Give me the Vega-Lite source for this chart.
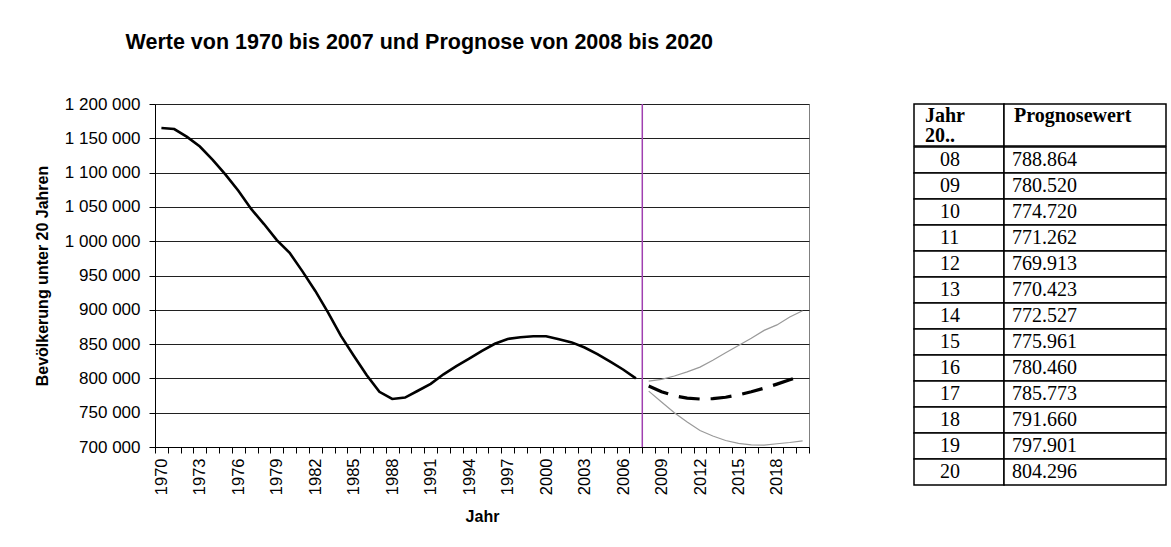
{
  "$schema": "https://vega.github.io/schema/vega-lite/v6.json",
  "background": "white",
  "padding": {"left": 33, "top": 32, "right": 2, "bottom": 5},
  "title": {
    "text": "Werte von 1970 bis 2007 und Prognose von 2008 bis 2020",
    "anchor": "middle",
    "dx": -181,
    "offset": 41,
    "font": "Liberation Sans",
    "fontSize": 21.5,
    "fontWeight": "bold",
    "color": "#000000"
  },
  "datasets": {
    "hist": [
      {"Jahr": 1970, "Wert": 1165000}, {"Jahr": 1971, "Wert": 1163500}, {"Jahr": 1972, "Wert": 1152000},
      {"Jahr": 1973, "Wert": 1138000}, {"Jahr": 1974, "Wert": 1118500}, {"Jahr": 1975, "Wert": 1097000},
      {"Jahr": 1976, "Wert": 1073500}, {"Jahr": 1977, "Wert": 1047000}, {"Jahr": 1978, "Wert": 1025000},
      {"Jahr": 1979, "Wert": 1001500}, {"Jahr": 1980, "Wert": 983000}, {"Jahr": 1981, "Wert": 956000},
      {"Jahr": 1982, "Wert": 927500}, {"Jahr": 1983, "Wert": 896000}, {"Jahr": 1984, "Wert": 862000},
      {"Jahr": 1985, "Wert": 833000}, {"Jahr": 1986, "Wert": 805000}, {"Jahr": 1987, "Wert": 780500},
      {"Jahr": 1988, "Wert": 770000}, {"Jahr": 1989, "Wert": 772000}, {"Jahr": 1990, "Wert": 782000},
      {"Jahr": 1991, "Wert": 792000}, {"Jahr": 1992, "Wert": 806000}, {"Jahr": 1993, "Wert": 818000},
      {"Jahr": 1994, "Wert": 829000}, {"Jahr": 1995, "Wert": 840000}, {"Jahr": 1996, "Wert": 850500},
      {"Jahr": 1997, "Wert": 857500}, {"Jahr": 1998, "Wert": 860000}, {"Jahr": 1999, "Wert": 861500},
      {"Jahr": 2000, "Wert": 861500}, {"Jahr": 2001, "Wert": 857000}, {"Jahr": 2002, "Wert": 852500},
      {"Jahr": 2003, "Wert": 845000}, {"Jahr": 2004, "Wert": 835500}, {"Jahr": 2005, "Wert": 824500},
      {"Jahr": 2006, "Wert": 813000}, {"Jahr": 2007, "Wert": 800000}
    ],
    "prog": [
      {"Jahr": 2008, "Wert": 788864}, {"Jahr": 2009, "Wert": 780520}, {"Jahr": 2010, "Wert": 774720},
      {"Jahr": 2011, "Wert": 771262}, {"Jahr": 2012, "Wert": 769913}, {"Jahr": 2013, "Wert": 770423},
      {"Jahr": 2014, "Wert": 772527}, {"Jahr": 2015, "Wert": 775961}, {"Jahr": 2016, "Wert": 780460},
      {"Jahr": 2017, "Wert": 785773}, {"Jahr": 2018, "Wert": 791660}, {"Jahr": 2019, "Wert": 797901},
      {"Jahr": 2020, "Wert": 804296}
    ],
    "grenzen": [
      {"Jahr": 2008, "Wert": 796000, "Grenze": "oben"}, {"Jahr": 2009, "Wert": 798500, "Grenze": "oben"},
      {"Jahr": 2010, "Wert": 803500, "Grenze": "oben"}, {"Jahr": 2011, "Wert": 809500, "Grenze": "oben"},
      {"Jahr": 2012, "Wert": 816500, "Grenze": "oben"}, {"Jahr": 2013, "Wert": 826500, "Grenze": "oben"},
      {"Jahr": 2014, "Wert": 837500, "Grenze": "oben"}, {"Jahr": 2015, "Wert": 848000, "Grenze": "oben"},
      {"Jahr": 2016, "Wert": 858500, "Grenze": "oben"}, {"Jahr": 2017, "Wert": 870000, "Grenze": "oben"},
      {"Jahr": 2018, "Wert": 878000, "Grenze": "oben"}, {"Jahr": 2019, "Wert": 889500, "Grenze": "oben"},
      {"Jahr": 2020, "Wert": 898500, "Grenze": "oben"},
      {"Jahr": 2008, "Wert": 781500, "Grenze": "unten"}, {"Jahr": 2009, "Wert": 765500, "Grenze": "unten"},
      {"Jahr": 2010, "Wert": 750000, "Grenze": "unten"}, {"Jahr": 2011, "Wert": 736500, "Grenze": "unten"},
      {"Jahr": 2012, "Wert": 724000, "Grenze": "unten"}, {"Jahr": 2013, "Wert": 716000, "Grenze": "unten"},
      {"Jahr": 2014, "Wert": 709500, "Grenze": "unten"}, {"Jahr": 2015, "Wert": 705200, "Grenze": "unten"},
      {"Jahr": 2016, "Wert": 703200, "Grenze": "unten"}, {"Jahr": 2017, "Wert": 702800, "Grenze": "unten"},
      {"Jahr": 2018, "Wert": 704700, "Grenze": "unten"}, {"Jahr": 2019, "Wert": 706600, "Grenze": "unten"},
      {"Jahr": 2020, "Wert": 709000, "Grenze": "unten"}
    ],
    "grenzjahr": [{"Jahr": 2008}],
    "kopfJahr": [{"k": "Jahr\n20.."}],
    "kopfWert": [{"k": "Prognosewert"}],
    "tabelle": [
      {"Jahr": "08", "Prognosewert": "788.864"}, {"Jahr": "09", "Prognosewert": "780.520"},
      {"Jahr": "10", "Prognosewert": "774.720"}, {"Jahr": "11", "Prognosewert": "771.262"},
      {"Jahr": "12", "Prognosewert": "769.913"}, {"Jahr": "13", "Prognosewert": "770.423"},
      {"Jahr": "14", "Prognosewert": "772.527"}, {"Jahr": "15", "Prognosewert": "775.961"},
      {"Jahr": "16", "Prognosewert": "780.460"}, {"Jahr": "17", "Prognosewert": "785.773"},
      {"Jahr": "18", "Prognosewert": "791.660"}, {"Jahr": "19", "Prognosewert": "797.901"},
      {"Jahr": "20", "Prognosewert": "804.296"}
    ]
  },
  "bounds": "flush",
  "spacing": 105,
  "hconcat": [
    {
      "width": 654,
      "height": 343,
      "view": {"stroke": "#808080", "strokeWidth": 1},
      "encoding": {
        "x": {
          "field": "Jahr",
          "type": "ordinal",
          "scale": {
            "type": "band",
            "paddingInner": 0,
            "paddingOuter": 0,
            "domain": [1970,1971,1972,1973,1974,1975,1976,1977,1978,1979,1980,1981,1982,1983,1984,1985,1986,1987,1988,1989,1990,1991,1992,1993,1994,1995,1996,1997,1998,1999,2000,2001,2002,2003,2004,2005,2006,2007,2008,2009,2010,2011,2012,2013,2014,2015,2016,2017,2018,2019,2020]
          },
          "axis": {
            "title": "Jahr",
            "labelAngle": -90,
            "labelExpr": "(datum.value - 1970) % 3 == 0 ? datum.label : ''",
            "tickBand": "extent",
            "tickSize": 6,
            "labelPadding": 5,
            "titlePadding": 14,
            "grid": false,
            "domainColor": "#000000",
            "tickColor": "#000000",
            "labelFont": "Liberation Sans",
            "labelFontSize": 16.5,
            "labelColor": "#000000",
            "titleFont": "Liberation Sans",
            "titleFontSize": 16,
            "titleFontWeight": "bold",
            "titleColor": "#000000"
          }
        },
        "y": {
          "field": "Wert",
          "type": "quantitative",
          "scale": {"domain": [700000, 1200000], "nice": false, "zero": false},
          "axis": {
            "title": "Bevölkerung unter 20 Jahren",
            "values": [700000, 750000, 800000, 850000, 900000, 950000, 1000000, 1050000, 1100000, 1150000, 1200000],
            "format": ",d",
            "grid": true,
            "gridColor": "#202020",
            "gridWidth": 1,
            "tickSize": 6,
            "labelPadding": 9,
            "titlePadding": 14,
            "domainColor": "#000000",
            "tickColor": "#000000",
            "labelFont": "Liberation Sans",
            "labelFontSize": 17,
            "labelColor": "#000000",
            "titleFont": "Liberation Sans",
            "titleFontSize": 16,
            "titleFontWeight": "bold",
            "titleColor": "#000000"
          }
        }
      },
      "layer": [
        {
          "data": {"name": "grenzen"},
          "mark": {"type": "line", "color": "#9a9a9a", "strokeWidth": 1.2},
          "encoding": {"detail": {"field": "Grenze", "type": "nominal"}}
        },
        {
          "data": {"name": "hist"},
          "mark": {"type": "line", "color": "#000000", "strokeWidth": 2.6}
        },
        {
          "data": {"name": "prog"},
          "mark": {"type": "line", "color": "#000000", "strokeWidth": 3.2, "strokeDash": [21, 11]}
        },
        {
          "data": {"name": "grenzjahr"},
          "mark": {"type": "rule", "color": "#a040b0", "strokeWidth": 1.5},
          "encoding": {"x": {"field": "Jahr", "type": "ordinal", "bandPosition": 0}, "y": null}
        }
      ]
    },
    {
      "bounds": "full",
      "spacing": -1.5,
      "vconcat": [
        {
          "bounds": "flush",
          "spacing": 0,
          "hconcat": [
            {
              "width": 90,
              "height": 42,
              "data": {"name": "kopfJahr"},
              "layer": [
                {
                  "mark": {"type": "rect", "fill": "white", "stroke": "#000000", "strokeWidth": 1.5},
                  "encoding": {"y": {"field": "k", "type": "nominal", "axis": null, "scale": {"paddingInner": 0, "paddingOuter": 0}}}
                },
                {
                  "mark": {"type": "text", "align": "left", "baseline": "top", "dx": -34, "dy": -19, "lineBreak": "\n", "lineHeight": 20, "font": "Liberation Serif", "fontSize": 20, "fontWeight": "bold", "color": "#000000"},
                  "encoding": {"text": {"field": "k", "type": "nominal"}}
                }
              ]
            },
            {
              "width": 162,
              "height": 42,
              "data": {"name": "kopfWert"},
              "layer": [
                {
                  "mark": {"type": "rect", "fill": "white", "stroke": "#000000", "strokeWidth": 1.5},
                  "encoding": {"y": {"field": "k", "type": "nominal", "axis": null, "scale": {"paddingInner": 0, "paddingOuter": 0}}}
                },
                {
                  "mark": {"type": "text", "align": "left", "baseline": "top", "dx": -71, "dy": -19, "font": "Liberation Serif", "fontSize": 20, "fontWeight": "bold", "color": "#000000"},
                  "encoding": {"text": {"field": "k", "type": "nominal"}}
                }
              ]
            }
          ]
        },
        {
          "bounds": "flush",
          "spacing": 0,
          "hconcat": [
            {
              "width": 90,
              "height": 338,
              "data": {"name": "tabelle"},
              "encoding": {"y": {"field": "Jahr", "type": "nominal", "sort": null, "axis": null, "scale": {"paddingInner": 0, "paddingOuter": 0}}},
              "layer": [
                {"mark": {"type": "rect", "fill": "white", "stroke": "#000000", "strokeWidth": 1.5}},
                {
                  "mark": {"type": "text", "align": "left", "baseline": "middle", "dx": -19, "font": "Liberation Serif", "fontSize": 20, "color": "#000000"},
                  "encoding": {"text": {"field": "Jahr", "type": "nominal"}}
                }
              ]
            },
            {
              "width": 162,
              "height": 338,
              "data": {"name": "tabelle"},
              "encoding": {"y": {"field": "Jahr", "type": "nominal", "sort": null, "axis": null, "scale": {"paddingInner": 0, "paddingOuter": 0}}},
              "layer": [
                {"mark": {"type": "rect", "fill": "white", "stroke": "#000000", "strokeWidth": 1.5}},
                {
                  "mark": {"type": "text", "align": "left", "baseline": "middle", "dx": -73, "font": "Liberation Serif", "fontSize": 20, "color": "#000000"},
                  "encoding": {"text": {"field": "Prognosewert", "type": "nominal"}}
                }
              ]
            }
          ]
        }
      ]
    }
  ],
  "config": {
    "locale": {"number": {"decimal": ",", "thousands": " ", "grouping": [3], "currency": ["", " €"]}},
    "view": {"stroke": null},
    "font": "Liberation Sans"
  }
}
